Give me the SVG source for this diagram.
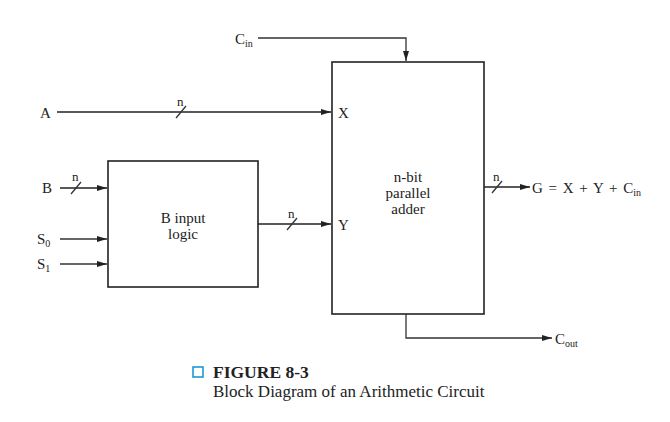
<svg xmlns="http://www.w3.org/2000/svg" width="670" height="422" viewBox="0 0 670 422">
<style>
text{font-family:"Liberation Serif","Times New Roman",serif;font-size:15px;fill:#222}
.box{fill:none;stroke:#222;stroke-width:1.6}
.w{fill:none;stroke:#333;stroke-width:1.3}
.bus{fill:none;stroke:#222;stroke-width:1.6}
.sub{font-size:10px}
.n{font-size:13px}
.c{text-anchor:middle}
</style>
<defs>
<marker id="ah" viewBox="0 0 10 6" refX="10" refY="3" markerWidth="10" markerHeight="6" markerUnits="userSpaceOnUse" orient="auto">
<path d="M0,0 L10,3 L0,6 Z" fill="#222"/>
</marker>
</defs>
<rect width="670" height="422" fill="#fff"/>
<g id="adder">
<rect class="box" x="332" y="62" width="152" height="252"/>
<text class="c" x="408" y="182">n-bit</text>
<text class="c" x="408" y="198">parallel</text>
<text class="c" x="408" y="214">adder</text>
<text x="338" y="118">X</text>
<text x="338" y="230">Y</text>
</g>
<g id="binput">
<rect class="box" x="108" y="161" width="150" height="126"/>
<text class="c" x="183" y="223">B input</text>
<text class="c" x="183" y="239">logic</text>
</g>
<g id="labels">
<text x="235" y="44">C<tspan class="sub" dy="3">in</tspan></text>
<text x="40" y="118">A</text>
<text x="42" y="193">B</text>
<text x="37" y="244">S<tspan class="sub" dy="3">0</tspan></text>
<text x="37" y="269">S<tspan class="sub" dy="3">1</tspan></text>
<text x="532" y="193" word-spacing="2">G = X + Y + C<tspan class="sub" dy="3">in</tspan></text>
<text x="555" y="344">C<tspan class="sub" dy="3">out</tspan></text>
<text class="n" x="177" y="106">n</text>
<text class="n" x="72" y="181">n</text>
<text class="n" x="288" y="218">n</text>
<text class="n" x="493" y="181">n</text>
</g>
<g id="connectors">
<polyline class="w" points="258,38 406,38 406,61" marker-end="url(#ah)"/>
<line class="bus" x1="57" y1="112" x2="331" y2="112" marker-end="url(#ah)"/>
<line class="bus" x1="60" y1="188" x2="107" y2="188" marker-end="url(#ah)"/>
<line class="w" x1="60" y1="239" x2="107" y2="239" marker-end="url(#ah)"/>
<line class="w" x1="60" y1="264" x2="107" y2="264" marker-end="url(#ah)"/>
<line class="bus" x1="258" y1="224" x2="331" y2="224" marker-end="url(#ah)"/>
<line class="bus" x1="484" y1="187" x2="530" y2="187" marker-end="url(#ah)"/>
<polyline class="w" points="406,314 406,338 552,338" marker-end="url(#ah)"/>
<g class="w">
<line x1="176" y1="118" x2="186" y2="106"/>
<line x1="71" y1="194" x2="81" y2="182"/>
<line x1="287" y1="230" x2="297" y2="218"/>
<line x1="492" y1="193" x2="502" y2="181"/>
</g>
</g>
<g id="caption">
<rect x="193" y="367" width="10" height="10" fill="none" stroke="#1a9ad6" stroke-width="1.6"/>
<text x="213" y="378" style="font-weight:bold;font-size:17.5px">FIGURE 8-3</text>
<text x="213" y="397" style="font-size:17px">Block Diagram of an Arithmetic Circuit</text>
</g>
</svg>
